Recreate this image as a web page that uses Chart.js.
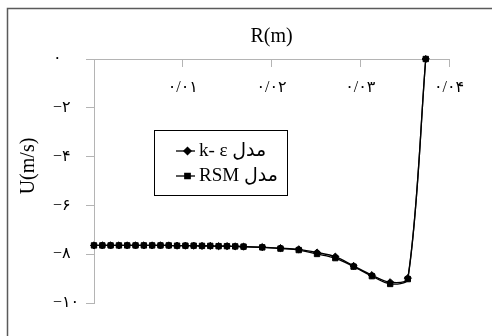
<!DOCTYPE html>
<html>
<head>
<meta charset="utf-8">
<script src="https://cdn.jsdelivr.net/npm/chart.js@4.4.1/dist/chart.umd.min.js"></script>
<style>
  html, body { margin: 0; padding: 0; background: #fff; }
  canvas { display: block; }
</style>
</head>
<body>
<canvas id="myChart" width="492" height="336"></canvas>
<script>
// radius (m) of each sample point
var radius = [0, 0.00094, 0.00187, 0.00281, 0.00374, 0.00468, 0.00562, 0.00655, 0.00749, 0.00842,
              0.00936, 0.01030, 0.01123, 0.01217, 0.01310, 0.01404, 0.01498, 0.01591, 0.01685,
              0.01896, 0.02101, 0.02307, 0.02513, 0.02719, 0.02925, 0.03131, 0.03337, 0.03536, 0.03738];
// velocity U (m/s)
var kEpsilon = [-7.64, -7.64, -7.64, -7.64, -7.64, -7.64, -7.64, -7.64, -7.64, -7.64,
                -7.65, -7.65, -7.65, -7.66, -7.66, -7.67, -7.67, -7.68, -7.69,
                -7.71, -7.75, -7.80, -7.93, -8.10, -8.48, -8.86, -9.15, -8.98, 0];
var rsm = [-7.64, -7.64, -7.64, -7.64, -7.64, -7.64, -7.64, -7.64, -7.64, -7.64,
           -7.65, -7.65, -7.65, -7.66, -7.66, -7.67, -7.67, -7.68, -7.69,
           -7.72, -7.77, -7.83, -7.99, -8.16, -8.51, -8.90, -9.22, -9.02, 0];

var seriesNames = ['k- ε مدل', 'RSM مدل'];
var xTicks = [0.01, 0.02, 0.03, 0.04];
var xTickLabels = ['۰/۰۱', '۰/۰۲', '۰/۰۳', '۰/۰۴'];
var yTicks = [0, -2, -4, -6, -8, -10];
var yTickLabels = ['۰', '−۲', '−۴', '−۶', '−۸', '−۱۰'];
var xTitle = 'R(m)';
var yTitle = 'U(m/s)';

var fontFamily = "'Liberation Serif', 'DejaVu Sans', serif";
var axisGrey = '#b4b4b4';

function labelFor(values, labels, v) {
    for (var i = 0; i < values.length; i++) {
        if (Math.abs(values[i] - v) < 1e-9) return labels[i];
    }
    return '';
}

function toPoints(xs, ys) {
    return xs.map(function (x, i) { return { x: x, y: ys[i] }; });
}

// outer frame, y title and the boxed legend
var frameAndLegend = {
    id: 'frameAndLegend',
    beforeDraw: function (chart) {
        var ctx = chart.ctx;
        ctx.save();
        ctx.strokeStyle = '#5a5a5a';
        ctx.lineWidth = 1.5;
        ctx.strokeRect(7.5, 8.5, 600, 400);
        ctx.restore();
    },
    afterDraw: function (chart) {
        var ctx = chart.ctx;
        ctx.save();
        ctx.fillStyle = '#000';
        ctx.font = '20px ' + fontFamily;
        ctx.translate(29, 166);
        ctx.rotate(-Math.PI / 2);
        ctx.textAlign = 'center';
        ctx.textBaseline = 'middle';
        ctx.fillText(yTitle, 0, 0);
        ctx.restore();

        ctx.save();
        ctx.strokeStyle = '#000';
        ctx.lineWidth = 1;
        ctx.strokeRect(154.5, 130.5, 133, 65);
        chart.data.datasets.forEach(function (ds, i) {
            var y = 151 + i * 25;
            ctx.strokeStyle = '#000';
            ctx.lineWidth = 1.3;
            ctx.beginPath();
            ctx.moveTo(176, y);
            ctx.lineTo(195, y);
            ctx.stroke();
            ctx.fillStyle = '#000';
            Chart.helpers.drawPoint(ctx, { pointStyle: ds.pointStyle, radius: ds.pointRadius, borderWidth: 1, rotation: 0 }, 187.5, y);
            ctx.font = '19px ' + fontFamily;
            ctx.textAlign = 'left';
            ctx.textBaseline = 'middle';
            ctx.fillText(ds.label, 199, y);
        });
        ctx.restore();
    }
};

Chart.defaults.font.family = fontFamily;
Chart.defaults.color = '#000';

var ctx = document.getElementById('myChart').getContext('2d');
var chart = new Chart(ctx, {
    type: 'line',
    data: {
        datasets: [{
            label: seriesNames[0],
            data: toPoints(radius, kEpsilon),
            borderColor: '#000',
            backgroundColor: '#000',
            borderWidth: 1.3,
            pointStyle: 'rectRot',
            pointRadius: 3.6,
            pointBorderWidth: 1,
            tension: 0.3,
            clip: false
        }, {
            label: seriesNames[1],
            data: toPoints(radius, rsm),
            borderColor: '#000',
            backgroundColor: '#000',
            borderWidth: 1.3,
            pointStyle: 'rect',
            pointRadius: 3.8,
            pointBorderWidth: 1,
            tension: 0.3,
            clip: false
        }]
    },
    options: {
        responsive: false,
        animation: false,
        layout: { padding: { top: 8, left: 53, right: 43, bottom: 33 } },
        plugins: {
            legend: { display: false },
            tooltip: { enabled: false },
            title: {
                display: true,
                text: xTitle,
                fullSize: false,
                color: '#000',
                font: { size: 20, weight: 'normal' },
                padding: { top: 17, bottom: 10 }
            }
        },
        scales: {
            x: {
                type: 'linear',
                position: { y: 0 },
                min: 0,
                max: 0.04,
                ticks: {
                    stepSize: 0.01,
                    padding: 12,
                    maxRotation: 0,
                    font: { size: 16 },
                    callback: function (v) { return labelFor(xTicks, xTickLabels, v); }
                },
                grid: { drawOnChartArea: false, tickLength: 7, color: axisGrey },
                border: { color: axisGrey, width: 1 }
            },
            y: {
                min: -10,
                max: 0,
                afterFit: function (scale) { scale.width = 41; },
                ticks: {
                    stepSize: 2,
                    crossAlign: 'far',
                    font: { size: 16 },
                    callback: function (v) { return labelFor(yTicks, yTickLabels, v); }
                },
                grid: { drawOnChartArea: false, tickLength: 8, color: axisGrey },
                border: { color: axisGrey, width: 1 }
            }
        }
    },
    plugins: [frameAndLegend]
});
</script>
</body>
</html>
